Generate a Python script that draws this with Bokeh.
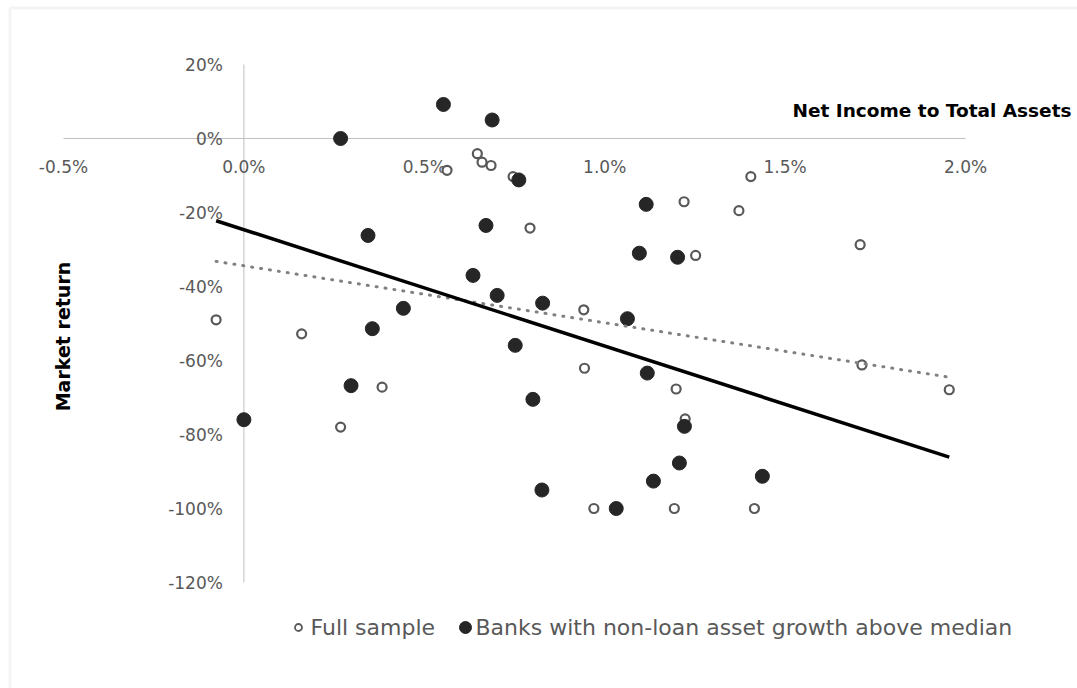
import numpy as np
from bokeh.plotting import figure
from bokeh.models import Range1d, BoxAnnotation, Grid
from bokeh.core.properties import value
from bokeh.embed import file_html
from bokeh.resources import INLINE

# ---------------------------------------------------------------------------
# Data: net income to total assets (%) against market return (%)
# ---------------------------------------------------------------------------
# banks that appear only in the full sample
other_nita = [-0.077, 0.160, 0.268, 0.383, 0.563, 0.647, 0.660, 0.685, 0.746, 0.793,
              0.942, 0.944, 0.970, 1.193, 1.198, 1.220, 1.223, 1.252, 1.372, 1.405,
              1.415, 1.708, 1.713, 1.955]
other_ret = [-49.0, -52.8, -78.0, -67.2, -8.6, -4.1, -6.4, -7.3, -10.3, -24.2,
             -46.3, -62.1, -100.0, -100.0, -67.7, -17.1, -75.8, -31.6, -19.5, -10.3,
             -100.0, -28.7, -61.2, -67.9]

# banks with non-loan asset growth above the median
above_nita = [0.000, 0.268, 0.297, 0.344, 0.356, 0.442, 0.553, 0.635, 0.671, 0.688,
              0.702, 0.752, 0.762, 0.801, 0.828, 0.826, 1.032, 1.063, 1.096, 1.115,
              1.118, 1.135, 1.202, 1.207, 1.221, 1.437]
above_ret = [-76.0, 0.0, -66.8, -26.2, -51.4, -45.9, 9.2, -37.0, -23.5, 5.0,
             -42.4, -55.9, -11.2, -70.5, -44.5, -95.0, -100.0, -48.7, -31.0, -17.8,
             -63.4, -92.6, -32.1, -87.7, -77.8, -91.3]

# the full sample contains every bank
full_nita = other_nita + above_nita
full_ret = other_ret + above_ret

# linear trend lines: intercept (%) and slope (% per 1 pp of NI/TA)
full_trend = (-34.4, -15.4)
above_trend = (-24.65, -31.45)

x_ticks = [-0.5, 0.0, 0.5, 1.0, 1.5, 2.0]
x_tick_labels = ["-0.5%", "0.0%", "0.5%", "1.0%", "1.5%", "2.0%"]
y_ticks = [20, 0, -20, -40, -60, -80, -100, -120]
y_tick_labels = ["20%", "0%", "-20%", "-40%", "-60%", "-80%", "-100%", "-120%"]

series_labels = ["Full sample", "Banks with non-loan asset growth above median"]
x_title = "Net Income to Total Assets"
y_title = "Market return"

# ---------------------------------------------------------------------------
# Layout: the value box spans these canvas pixels
# ---------------------------------------------------------------------------
W, H = 1077, 688
BOX_L, BOX_R, BOX_T, BOX_B = 63, 965, 64, 582
X_MIN, X_MAX = x_ticks[0], x_ticks[-1]
Y_MIN, Y_MAX = y_ticks[-1], y_ticks[0]
SX = (BOX_R - BOX_L) / (X_MAX - X_MIN)
SY = (BOX_B - BOX_T) / (Y_MAX - Y_MIN)


def x_at(px):
    return X_MIN + (px - BOX_L) / SX


def y_at(py):
    return Y_MAX - (py - BOX_T) / SY


FONT = value("DejaVu Sans")
GREY_TEXT = "#595959"
AXIS_GREY = "#bfbfbf"

p = figure(width=W, height=H,
           x_range=Range1d(x_at(0), x_at(W)), y_range=Range1d(y_at(H), y_at(0)),
           output_backend="svg", toolbar_location=None,
           x_axis_location=None, y_axis_location=None,
           min_border=0, outline_line_color=None,
           background_fill_color="white", border_fill_color="white")
for r in p.center:
    if isinstance(r, Grid):
        r.visible = False

# chart-area border (top and left edges fall inside the canvas)
p.add_layout(BoxAnnotation(left=x_at(9.5), right=x_at(W + 20),
                           top=y_at(7.5), bottom=y_at(H + 20),
                           fill_color=None, line_color="#d9d9d9", line_width=3))

# axes crossing at the origin
p.segment(x0=[X_MIN], y0=[0], x1=[X_MAX], y1=[0], line_color=AXIS_GREY, line_width=1)
p.segment(x0=[0], y0=[Y_MIN], x1=[0], y1=[Y_MAX], line_color=AXIS_GREY, line_width=1)

# tick labels
p.text(x=x_ticks, y=[0] * len(x_ticks), text=x_tick_labels, y_offset=28,
       text_align="center", text_baseline="middle", text_font=FONT,
       text_font_size="17px", text_color=GREY_TEXT)
p.text(x=[0] * len(y_ticks), y=y_ticks, text=y_tick_labels, x_offset=-21,
       text_align="right", text_baseline="middle", text_font=FONT,
       text_font_size="17px", text_color=GREY_TEXT)

# scatter series
p.scatter(full_nita, full_ret, marker="circle", size=9, fill_color="white",
          line_color=GREY_TEXT, line_width=2.2)
p.scatter(above_nita, above_ret, marker="circle", size=14, fill_color="#262626",
          line_color="#262626", line_width=1)

# trend lines over the range of the full sample
tx = np.array([min(full_nita), max(full_nita)])
p.line(tx, full_trend[0] + full_trend[1] * tx, line_color="#808080", line_width=3,
       line_dash="1 8", line_cap="round")
p.line(tx, above_trend[0] + above_trend[1] * tx, line_color="black", line_width=3.5)

# axis titles
p.text(x=[x_at(792)], y=[y_at(110)], text=[x_title], text_align="left",
       text_baseline="middle", text_font=FONT, text_font_style="bold",
       text_font_size="18.5px", text_color="black")
p.text(x=[x_at(62)], y=[y_at(336)], text=[y_title], angle=np.pi / 2,
       text_align="center", text_baseline="middle", text_font=FONT,
       text_font_style="bold", text_font_size="19px", text_color="black")

# legend
leg_y = y_at(627)
p.scatter([x_at(298)], [leg_y], marker="circle", size=7, fill_color="white",
          line_color=GREY_TEXT, line_width=1.8)
p.scatter([x_at(465)], [leg_y], marker="circle", size=12, fill_color="#262626",
          line_color="#262626")
p.text(x=[x_at(310), x_at(475)], y=[leg_y, leg_y], text=series_labels,
       text_align="left", text_baseline="middle", text_font=FONT,
       text_font_size="22px", text_color=GREY_TEXT)

open("out.html", "w").write(file_html(p, INLINE))
